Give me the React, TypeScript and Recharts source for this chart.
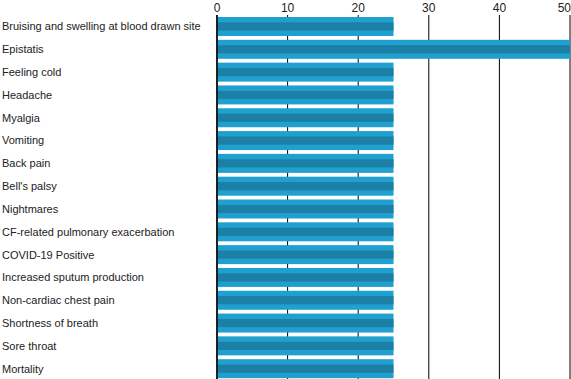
import { BarChart, Bar, XAxis, YAxis, CartesianGrid } from 'recharts';

const categories = [
  'Bruising and swelling at blood drawn site',
  'Epistatis',
  'Feeling cold',
  'Headache',
  'Myalgia',
  'Vomiting',
  'Back pain',
  "Bell's palsy",
  'Nightmares',
  'CF-related pulmonary exacerbation',
  'COVID-19 Positive',
  'Increased sputum production',
  'Non-cardiac chest pain',
  'Shortness of breath',
  'Sore throat',
  'Mortality',
];

const values = [25, 50, 25, 25, 25, 25, 25, 25, 25, 25, 25, 25, 25, 25, 25, 25];

const xTicks = [0, 10, 20, 30, 40, 50];

const data = categories.map((name, i) => ({ name, value: values[i] }));

const LIGHT = '#20a0cf';
const DARK = '#1c7fa5';

function StripedBar(props: any) {
  const { x, y, width, height } = props;
  if (!width || width <= 0) return null;
  const stripe = height * 0.43;
  return (
    <g>
      <rect x={x} y={y} width={width} height={height} fill={LIGHT} />
      <rect x={x} y={y + (height - stripe) / 2} width={width} height={stripe} fill={DARK} />
    </g>
  );
}

function CategoryTick(props: any) {
  const { y, payload } = props;
  return (
    <text x={2} y={y} dy={4} textAnchor="start" fontSize={11} fill="#222">
      {payload.value}
    </text>
  );
}

// the last label would run past the right edge, so pull it inside
function ValueTick(props: any) {
  const { x, payload } = props;
  const last = payload.value === xTicks[xTicks.length - 1];
  return (
    <text
      x={last ? x + 1 : x}
      y={12}
      textAnchor={last ? 'end' : 'middle'}
      fontSize={12}
      fill="#222"
    >
      {payload.value}
    </text>
  );
}

export default function App() {
  return (
    <div style={{ position: 'absolute', left: 0, top: 0, width: 571, height: 379, overflow: 'hidden', background: '#fff' }}>
      <BarChart
        width={571}
        height={380}
        data={data}
        layout="vertical"
        margin={{ top: 0, right: 1, left: 0, bottom: 0 }}
        barSize={19}
        style={{ fontFamily: 'Arial, "Liberation Sans", sans-serif' }}
      >
        <CartesianGrid horizontal={false} vertical stroke="#000" strokeWidth={1} />
        <XAxis
          type="number"
          orientation="top"
          domain={[0, 50]}
          ticks={xTicks}
          height={15}
          axisLine={false}
          tickLine={false}
          tick={<ValueTick />}
          interval={0}
        />
        <YAxis
          type="category"
          dataKey="name"
          width={217}
          axisLine={{ stroke: '#000', strokeWidth: 1.5 }}
          tickLine={false}
          tick={<CategoryTick />}
          interval={0}
        />
        <Bar dataKey="value" shape={<StripedBar />} isAnimationActive={false} />
      </BarChart>
    </div>
  );
}
